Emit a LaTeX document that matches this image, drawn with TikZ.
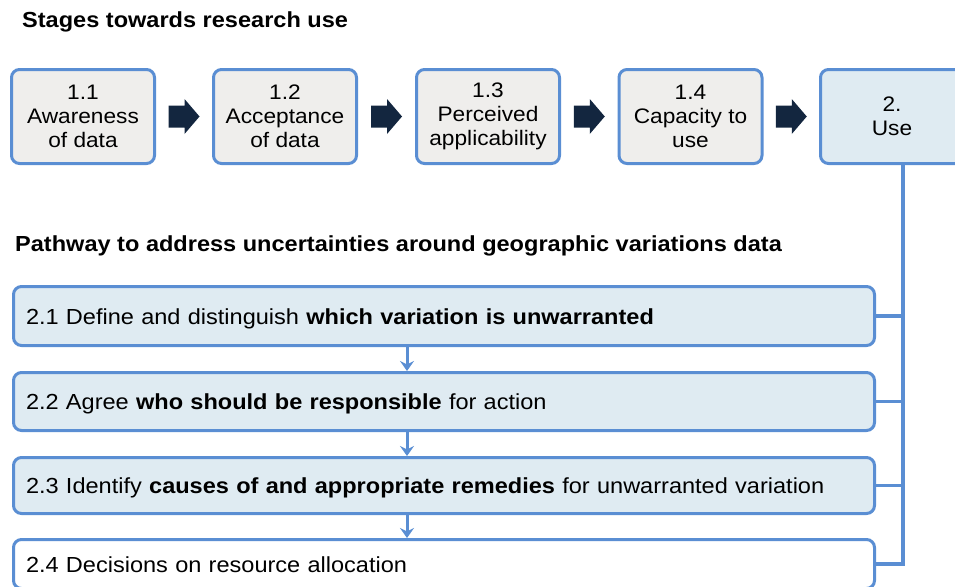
\documentclass[tikz,border=0pt]{standalone}
\usepackage{fontspec}
\setmainfont[FakeStretch=1.08]{Liberation Sans}
\usetikzlibrary{arrows.meta,calc}
\definecolor{edgeblue}{HTML}{5A8ED3}
\definecolor{greyfill}{HTML}{EFEEEC}
\definecolor{bluefill}{HTML}{DFEBF2}
\definecolor{navy}{HTML}{13263F}
\begin{document}
\begin{tikzpicture}[x=1pt,y=-1pt,
  stagebox/.style={draw=edgeblue, line width=3pt, rounded corners=8pt, fill=greyfill,
    minimum width=143pt, minimum height=94pt, align=center, inner sep=0pt,
    font=\fontsize{21}{24}\selectfont},
  pathbox/.style={draw=edgeblue, line width=3pt, rounded corners=8pt, fill=bluefill,
    minimum width=861pt, inner xsep=12.5pt, inner ysep=0pt, text width=836pt, align=left,
    text height=16pt, text depth=0pt,
    font=\fontsize{21.8}{26}\selectfont},
  titletext/.style={anchor=base west, inner sep=0pt, font=\bfseries\fontsize{21.8}{26}\selectfont},
  link/.style={draw=edgeblue, line width=3.5pt},
  downarrow/.style={draw=edgeblue, line width=3pt, -{Stealth[length=10pt,width=14pt,inset=3.5pt]}},
  blockarrow/.pic={\fill[navy] (-15.5,-11) -- (0.5,-11) -- (0.5,-17.5) -- (15.5,0) -- (0.5,17.5) -- (0.5,11) -- (-15.5,11) -- cycle;}
]
\useasboundingbox (0,0) rectangle (955,586);
\begin{scope}
\clip (0,0) rectangle (955,586);

\node[titletext] (t1) at (22,28) {Stages towards research use};

\node[stagebox] (s1) at (83,116.5) {1.1\\Awareness\\of data};
\node[stagebox] (s2) at (285,116.5) {1.2\\Acceptance\\of data};
\node[stagebox] (s3) at (488,116.5) {1.3\\Perceived\\applicability};
\node[stagebox] (s4) at (690.5,116.5) {1.4\\Capacity to\\use};
\node[stagebox, fill=bluefill] (use) at (892,116.5) {2.\\Use};

\foreach \a/\b in {s1/s2,s2/s3,s3/s4,s4/use}
  \pic at ($(\a.east)!0.5!(\b.west)$) {blockarrow};

\node[titletext] (t2) at (15,251) {Pathway to address uncertainties around geographic variations data};

\node[pathbox, minimum height=59pt] (b21) at (444,316) {2.1 Define and distinguish \textbf{which variation is unwarranted}};
\node[pathbox, minimum height=58pt] (b22) at (444,401.5) {2.2 Agree \textbf{who should be responsible} for action};
\node[pathbox, minimum height=56pt] (b23) at (444,485.5) {2.3 Identify \textbf{causes of and appropriate remedies} for unwarranted variation};
\node[pathbox, fill=white, minimum height=49pt] (b24) at (444,564) {2.4 Decisions on resource allocation};

\coordinate (ax) at (407,0);
\coordinate (spine) at (903,0);
\draw[downarrow] (b21.south -| ax) -- (b22.north -| ax);
\draw[downarrow] (b22.south -| ax) -- (b23.north -| ax);
\draw[downarrow] (b23.south -| ax) -- (b24.north -| ax);

\draw[link] (use.south -| spine) -- (spine |- b24.east) -- (b24.east);
\draw[link] (b21.east) -- (b21.east -| spine);
\draw[link] (b22.east) -- (b22.east -| spine);
\draw[link] (b23.east) -- (b23.east -| spine);
\end{scope}
\end{tikzpicture}
\end{document}
